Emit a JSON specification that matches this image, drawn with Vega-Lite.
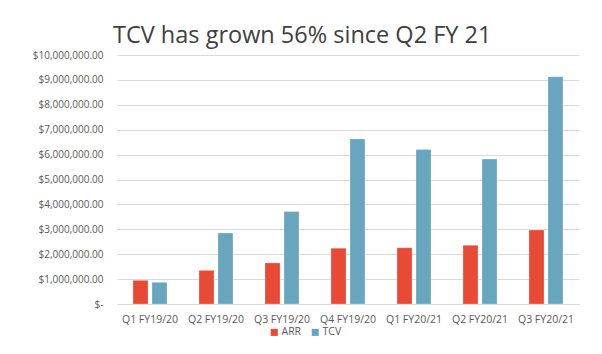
{
  "$schema": "https://vega.github.io/schema/vega-lite/v6.json",
  "autosize": {"type": "none"},
  "padding": {"left": 117, "top": 55, "right": 23, "bottom": 50},
  "width": 462,
  "height": 249,
  "background": "white",
  "title": {
    "text": "TCV has grown 56% since Q2 FY 21",
    "anchor": "start",
    "frame": "group",
    "orient": "top",
    "dx": -4,
    "offset": -16,
    "baseline": "alphabetic",
    "font": "Open Sans",
    "fontSize": 23.5,
    "fontWeight": "normal",
    "color": "#404040"
  },
  "data": {
    "values": [
      {"quarter": "Q1 FY19/20", "series": "ARR", "value": 950000},
      {"quarter": "Q1 FY19/20", "series": "TCV", "value": 870000},
      {"quarter": "Q2 FY19/20", "series": "ARR", "value": 1350000},
      {"quarter": "Q2 FY19/20", "series": "TCV", "value": 2850000},
      {"quarter": "Q3 FY19/20", "series": "ARR", "value": 1650000},
      {"quarter": "Q3 FY19/20", "series": "TCV", "value": 3710000},
      {"quarter": "Q4 FY19/20", "series": "ARR", "value": 2240000},
      {"quarter": "Q4 FY19/20", "series": "TCV", "value": 6630000},
      {"quarter": "Q1 FY20/21", "series": "ARR", "value": 2260000},
      {"quarter": "Q1 FY20/21", "series": "TCV", "value": 6200000},
      {"quarter": "Q2 FY20/21", "series": "ARR", "value": 2360000},
      {"quarter": "Q2 FY20/21", "series": "TCV", "value": 5820000},
      {"quarter": "Q3 FY20/21", "series": "ARR", "value": 2970000},
      {"quarter": "Q3 FY20/21", "series": "TCV", "value": 9130000}
    ]
  },
  "mark": {"type": "bar", "stroke": "#ffffff", "strokeOpacity": 0.5, "strokeWidth": 0.5},
  "encoding": {
    "x": {
      "field": "quarter",
      "type": "nominal",
      "sort": null,
      "scale": {"paddingInner": 0.485, "paddingOuter": 0.2425},
      "axis": {
        "title": null,
        "labelAngle": 0,
        "labelFont": "Open Sans",
        "labelFontSize": 10.5,
        "labelColor": "#595959",
        "labelPadding": 10,
        "ticks": false,
        "tickSize": 0,
        "domain": true,
        "domainColor": "#D9D9D9",
        "domainWidth": 1,
        "grid": false
      }
    },
    "xOffset": {
      "field": "series",
      "type": "nominal",
      "scale": {"paddingInner": 0.21, "paddingOuter": 0}
    },
    "y": {
      "field": "value",
      "type": "quantitative",
      "scale": {"domain": [0, 10000000], "nice": false},
      "axis": {
        "title": null,
        "values": [0, 1000000, 2000000, 3000000, 4000000, 5000000, 6000000, 7000000, 8000000, 9000000, 10000000],
        "labelExpr": "datum.value == 0 ? '$-' : '$' + format(datum.value, ',.2f')",
        "labelFont": "Open Sans",
        "labelFontSize": 10,
        "labelColor": "#595959",
        "labelPadding": 14,
        "ticks": false,
        "tickSize": 0,
        "domain": false,
        "grid": true,
        "gridColor": "#D9D9D9",
        "gridWidth": 1
      }
    },
    "color": {
      "field": "series",
      "type": "nominal",
      "scale": {"domain": ["ARR", "TCV"], "range": ["#E84A36", "#68A6C0"]},
      "legend": {
        "title": null,
        "orient": "none",
        "direction": "horizontal",
        "legendX": 152,
        "legendY": 272,
        "symbolType": "square",
        "symbolSize": 50,
        "symbolStrokeWidth": 0,
        "labelFont": "Open Sans",
        "labelFontSize": 10.5,
        "labelColor": "#595959",
        "labelOffset": 2,
        "columnPadding": 8
      }
    }
  },
  "config": {
    "view": {"stroke": null}
  }
}
